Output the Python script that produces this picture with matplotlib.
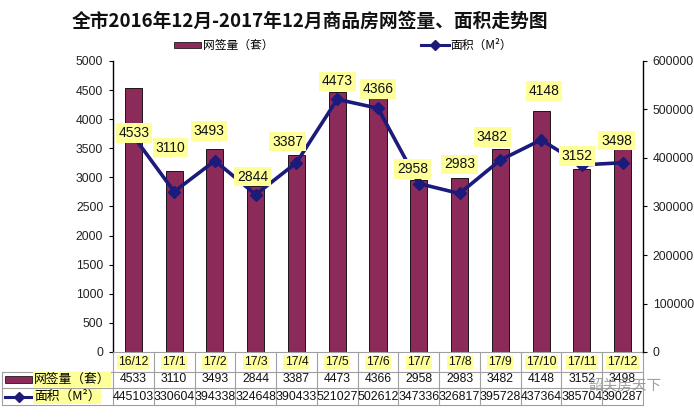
import matplotlib
matplotlib.use("Agg")
import matplotlib.pyplot as plt
from matplotlib.lines import Line2D
from matplotlib.patches import Rectangle
import matplotlib.transforms as mtransforms

plt.rcParams['font.family'] = ['Liberation Sans', 'Noto Sans CJK SC', 'DejaVu Sans']

categories = ['16/12', '17/1', '17/2', '17/3', '17/4', '17/5', '17/6',
              '17/7', '17/8', '17/9', '17/10', '17/11', '17/12']
counts = [4533, 3110, 3493, 2844, 3387, 4473, 4366, 2958, 2983, 3482, 4148, 3152, 3498]
areas = [445103, 330604, 394338, 324648, 390433, 521027, 502612,
         347336, 326817, 395728, 437364, 385704, 390287]

title = '全市2016年12月-2017年12月商品房网签量、面积走势图'
bar_name = '网签量（套）'
line_name = '面积（M²）'

# label offsets from line point (pixels) -- styling only
label_dx = [0.6, -4, -6, -3, -9, 0, 0, -6, 0, -8, 3, -5, -6]
label_dy = [3, 44, 30, 18, 21, 18, 19, 14.5, 29, 23, 49, 9, 22]

W, H = 694, 418
BAR_C = '#8C2A5A'
LINE_C = '#1C1A7A'
YEL = '#FFFF99'
CJK = ['Noto Sans CJK SC', 'DejaVu Sans']

fig = plt.figure(figsize=(W / 100, H / 100), dpi=100)
fig.patch.set_facecolor('white')

L, R, T, B = 113, 643, 61, 352
ax = fig.add_axes([L / W, 1 - B / H, (R - L) / W, (B - T) / H])
ax2 = ax.twinx()

x = list(range(len(categories)))
ax.bar(x, counts, width=0.42, color=BAR_C, edgecolor='black', linewidth=0.6, zorder=2)
ax.set_xlim(-0.5, len(categories) - 0.5)
ax.set_ylim(0, 5000)
ax.set_yticks(range(0, 5001, 500))
ax.set_xticks([])
ax2.set_ylim(0, 600000)
ax2.set_yticks(range(0, 600001, 100000))

for a in (ax, ax2):
    a.spines['top'].set_visible(False)
    a.patch.set_visible(False)
ax.spines['right'].set_visible(False)
ax2.spines['left'].set_visible(False)
ax2.spines['bottom'].set_visible(False)
ax.spines['bottom'].set_color('#A0A0A0')
ax.spines['left'].set_linewidth(1.0)
ax2.spines['right'].set_linewidth(1.0)
ax.tick_params(axis='y', direction='out', length=3, labelsize=8.8, labelcolor='#222222', pad=4)
ax2.tick_params(axis='y', direction='out', length=3, labelsize=8.8, labelcolor='#222222', pad=4)
ax.set_zorder(1)
ax2.set_zorder(2)

ax2.plot(x, areas, color=LINE_C, linewidth=2.6, marker='D', markersize=6.5,
         markerfacecolor=LINE_C, markeredgecolor=LINE_C, zorder=3)

for i, c in enumerate(counts):
    ax2.annotate(str(c), xy=(i, areas[i]), xytext=(label_dx[i] * 0.72, label_dy[i] * 0.72),
                 textcoords='offset points', ha='center', va='center', fontsize=10,
                 color='#111111', zorder=5,
                 bbox=dict(boxstyle='square,pad=0.2', facecolor=YEL, edgecolor='none'))

# Title
fig.text(310 / W, 1 - 21 / H, title, fontsize=13.5, fontweight='bold',
         family=CJK, ha='center', va='center', color='#111111')

# Top legend
fig.add_artist(Rectangle((174 / W, 1 - 48 / H), 27 / W, 6 / H, transform=fig.transFigure,
                         facecolor=BAR_C, edgecolor='black', linewidth=0.5))
fig.text(203 / W, 1 - 45 / H, bar_name, fontsize=8.5, family=CJK, ha='left', va='center')
fig.add_artist(Line2D([421 / W, 449 / W], [1 - 45 / H, 1 - 45 / H], transform=fig.transFigure,
                      color=LINE_C, linewidth=2.2, zorder=3))
fig.add_artist(Line2D([435 / W], [1 - 45 / H], transform=fig.transFigure,
                      color=LINE_C, marker='D', markersize=5, linestyle='none'))
fig.text(450 / W, 1 - 45 / H, line_name, fontsize=8.5, family=CJK, ha='left', va='center')

# Data table
tr = mtransforms.blended_transform_factory(ax.transData, fig.transFigure)
GRID = '#A0A0A0'
rows_y = [352, 371.5, 388, 405]
fy = lambda p: 1 - p / H
n = len(categories)
for yy in rows_y[1:]:
    fig.add_artist(Line2D([2 / W, R / W], [fy(yy), fy(yy)], transform=fig.transFigure,
                          color=GRID, linewidth=0.8))
for i in range(n + 1):
    fig.add_artist(Line2D([i - 0.5, i - 0.5], [fy(352), fy(405)], transform=tr,
                          color=GRID, linewidth=0.8))
fig.add_artist(Line2D([2 / W, 2 / W], [fy(371.5), fy(405)], transform=fig.transFigure,
                      color=GRID, linewidth=0.8))

for i in range(n):
    fig.text(i, fy(362), categories[i], transform=tr, ha='center', va='center', fontsize=8.8,
             color='#111111',
             bbox=dict(boxstyle='square,pad=0.1', facecolor=YEL, edgecolor='none'))
    fig.text(i, fy(379.5), str(counts[i]), transform=tr, ha='center', va='center',
             fontsize=8.8, color='#111111')
    fig.text(i, fy(396.5), str(areas[i]), transform=tr, ha='center', va='center',
             fontsize=8.9, color='#111111')

# row labels
fig.add_artist(Rectangle((5 / W, fy(382.5)), 27 / W, 6.5 / H, transform=fig.transFigure,
                         facecolor=BAR_C, edgecolor='black', linewidth=0.5))
fig.text(34 / W, fy(379.5), bar_name, fontsize=9.2, family=CJK, ha='left', va='center',
         bbox=dict(boxstyle='square,pad=0.05', facecolor=YEL, edgecolor='none'))
fig.add_artist(Line2D([5 / W, 32 / W], [fy(396.5), fy(396.5)], transform=fig.transFigure,
                      color=LINE_C, linewidth=2.2))
fig.add_artist(Line2D([18.5 / W], [fy(396.5)], transform=fig.transFigure,
                      color=LINE_C, marker='D', markersize=5, linestyle='none'))
fig.text(34 / W, fy(396.5), line_name, fontsize=9.2, family=CJK, ha='left', va='center',
         bbox=dict(boxstyle='square,pad=0.05', facecolor=YEL, edgecolor='none'))

# watermark text
fig.text(588 / W, fy(386), '韶关房天下', fontsize=10.5, family=CJK, ha='left', va='center',
         color='#8a8a8a', alpha=0.8, zorder=10)

fig.savefig('out.png', dpi=100, facecolor='white')
